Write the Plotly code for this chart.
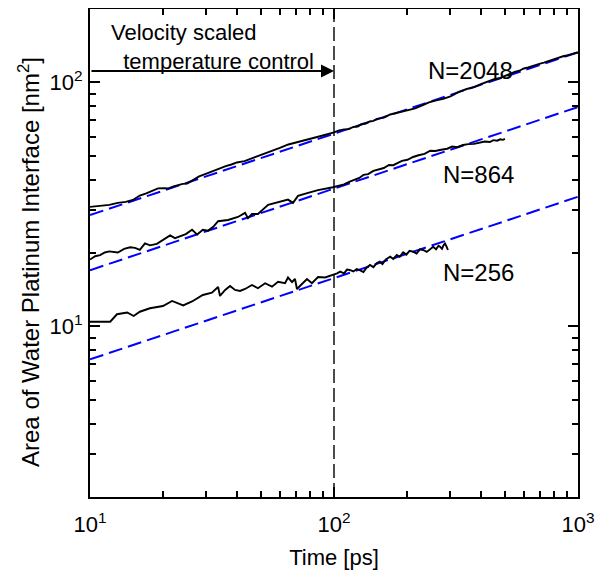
import plotly.graph_objects as go
import math

# ---- data ----
t_2048 = [10, 11, 12, 13, 14, 15, 16, 17, 18, 19, 20, 21, 22, 23, 24, 25, 26, 27, 28,
          30, 32, 34, 36, 38, 40, 43, 46, 50, 55, 60, 65, 70, 75, 80, 90,
          100, 105, 110, 115, 120, 125, 130, 135, 140, 145, 150, 160, 170, 180, 190, 200,
          215, 230, 245, 260, 280, 300, 325, 350, 375, 400, 425, 450, 475, 500, 525, 550,
          575, 600, 625, 650, 675, 700, 725, 750, 775, 800, 825, 850, 875, 900, 925, 950,
          975, 1000]
a_2048 = [30.9, 31.3, 31.5, 32.1, 32.4, 33.0, 34.4, 35.1, 35.9, 36.8, 36.9, 36.8, 37.5, 38.0, 38.4, 38.5, 39.4, 40.2, 41.2,
          42.3, 43.4, 44.4, 45.4, 46.1, 47.0, 47.6, 48.8, 50.2, 51.9, 53.9, 55.7, 56.7, 57.8, 58.9, 60.6,
          62.4, 63.6, 64.2, 64.4, 65.7, 66.0, 67.6, 67.9, 69.2, 69.6, 70.9, 71.8, 73.9, 75.0, 75.6, 77.1,
          78.3, 80.5, 82.9, 84.3, 85.6, 87.6, 91.4, 94.0, 95.7, 98.5, 100.9, 102.8, 104.0, 106.2, 108.9, 110.4,
          111.7, 114.1, 115.2, 116.8, 118.6, 119.5, 120.5, 121.9, 123.6, 124.8, 125.4, 126.6, 128.3, 129.0, 129.6, 130.9,
          132.0, 132.7]

t_864 = [10, 10.5, 11, 11.5, 12, 13, 13.8, 14.6, 15.3, 16, 16.8, 17.6, 18.8, 19.9, 21.3, 22.3, 23.8, 24.7,
         26.2, 27.5, 29, 30.5, 32, 33.5, 36.8, 40.4, 43.2, 44.4, 46.1, 48.8, 53.7, 59, 64.8, 67.9, 71.2,
         78.3, 86, 99, 103, 106, 110, 116, 122, 127, 132, 138, 145, 154, 160, 168, 175, 181, 190, 200,
         211, 222, 235, 248, 260, 275, 291, 305, 320, 338, 355, 375, 397, 415, 435, 450, 466, 480, 492, 502]
a_864 = [18.8, 19.4, 19.6, 20.1, 20.3, 20.1, 20.8, 21.1, 21.0, 20.6, 21.9, 21.5, 21.8, 22.6, 23.6, 23.0, 23.5, 23.9,
         24.9, 23.8, 24.9, 24.7, 25.6, 27.0, 27.3, 28.1, 29.2, 27.8, 28.9, 28.9, 31.5, 32.4, 33.1, 32.1, 34.3,
         35.3, 36.2, 37.2, 37.6, 38.0, 38.2, 39.2, 39.9, 40.6, 41.8, 42.1, 43.4, 44.1, 44.6, 45.9, 45.8, 46.6, 47.7, 48.2,
         49.5, 50.3, 51.0, 52.5, 52.4, 53.0, 53.5, 54.6, 54.3, 55.4, 55.9, 56.0, 56.5, 57.3, 57.0, 58.0, 57.7, 58.5, 58.2, 58.7]

t_256 = [10, 11, 12.1, 12.9, 14.2, 15.1, 16, 17.6, 18.8, 19.9, 21.7, 22.7, 24.1, 26.2, 27.5, 29, 31.6,
         33.5, 34.1, 35.8, 37.5, 39.3, 41.2, 43.2, 46.1, 48.8, 52.2, 55.7, 59, 63, 64.8, 67.3, 69.2, 70.5,
         73.9, 77.5, 81.2, 86, 91.9, 99, 103, 106, 110, 113, 116, 120, 124, 128, 132, 136, 140.5, 145, 150,
         154, 158, 163, 170, 175, 181, 186, 192, 198, 204, 211, 218, 225, 232, 240, 248, 255, 262, 268,
         272, 277, 281, 285, 289, 293]
a_256 = [10.45, 10.47, 10.46, 11.22, 11.41, 11.04, 11.49, 11.87, 12.05, 12.13, 12.72, 12.52, 12.19, 12.66, 13.02, 13.46, 13.76,
         14.52, 13.33, 14.11, 14.65, 14.11, 13.98, 14.24, 14.79, 14.34, 15.03, 14.56, 15.25, 15.03, 15.87, 15.21, 15.65, 14.24,
         14.93, 15.65, 15.03, 15.94, 15.87, 16.25, 16.5, 16.77, 16.5, 17.1, 17.04, 16.8, 17.2, 16.96, 16.7, 17.4, 17.86, 17.5, 18.2,
         18.42, 18.0, 18.8, 19.31, 18.9, 19.62, 19.3, 20.14, 19.7, 20.4, 20.24, 19.9, 20.7, 20.57, 20.2, 20.71, 21.2, 20.7, 21.4,
         21.22, 20.8, 21.5, 21.88, 21.3, 20.57]

fit_t = [10, 1000]
fit_2048 = [28.6, 132.9]
fit_864 = [17.0, 79.3]
fit_256 = [7.33, 34.0]

series_labels = ["N=2048", "N=864", "N=256"]
label_pos = [(0.779, 0.875), (0.797, 0.661), (0.797, 0.46)]

x_range = [10, 1000]
y_range = [2, 200]
switch_time = 100
arrow_y = 111.4
x_major = [10, 100, 1000]
x_major_text = ["10<sup>1</sup>", "10<sup>2</sup>", "10<sup>3</sup>"]
y_major = [10, 100]
y_major_text = ["10<sup>1</sup>", "10<sup>2</sup>"]
x_minor = [20, 30, 40, 50, 60, 70, 80, 90, 200, 300, 400, 500, 600, 700, 800, 900]
y_minor = [2, 3, 4, 5, 6, 7, 8, 9, 20, 30, 40, 50, 60, 70, 80, 90, 200]

FONT = "Liberation Sans, Arial, sans-serif"

fig = go.Figure()

for fv in (fit_2048, fit_864, fit_256):
    fig.add_trace(go.Scatter(x=fit_t, y=fv, mode="lines",
                             line=dict(color="#0000ff", width=2, dash="14px,6px"),
                             showlegend=False, hoverinfo="skip"))

for tv, av in ((t_2048, a_2048), (t_864, a_864), (t_256, a_256)):
    fig.add_trace(go.Scatter(x=tv, y=av, mode="lines",
                             line=dict(color="black", width=1.9),
                             showlegend=False))

# vertical dashed line at switch time
fig.add_trace(go.Scatter(x=[switch_time, switch_time], y=y_range, mode="lines",
                         line=dict(color="black", width=1.4, dash="14px,5px"),
                         showlegend=False, hoverinfo="skip"))

fig.add_annotation(x=math.log10(switch_time), y=math.log10(arrow_y), xref="x", yref="y",
                   ax=math.log10(x_range[0]), ay=math.log10(arrow_y), axref="x", ayref="y",
                   text="", showarrow=True, arrowhead=2, arrowsize=1.3, arrowwidth=2,
                   arrowcolor="black", standoff=0, startstandoff=0)

fig.add_annotation(x=0.039, y=0.922, xref="paper", yref="paper",
                   text="Velocity scaled<br>\u00a0\u00a0temperature control",
                   showarrow=False, xanchor="left", yanchor="middle", align="left",
                   font=dict(size=22, color="black", family=FONT))

for lab, (lx, ly) in zip(series_labels, label_pos):
    fig.add_annotation(x=lx, y=ly, xref="paper", yref="paper", text=lab, showarrow=False,
                       xanchor="center", yanchor="middle",
                       font=dict(size=24, color="black", family=FONT))

# y-axis title (placed as rotated text, slightly below the plot centre as in the reference)
fig.add_annotation(x=-0.125, y=0.4816, xref="paper", yref="paper",
                   text="Area of Water Platinum Interface [nm<sup>2</sup>]",
                   textangle=-90, showarrow=False, xanchor="center", yanchor="middle",
                   font=dict(size=24, color="black", family=FONT))

axis_common = dict(
    type="log", showgrid=False, zeroline=False, automargin=False,
    showline=True, linecolor="black", linewidth=2, mirror="ticks",
    ticks="inside", ticklen=10, tickwidth=2, tickcolor="black",
    tickfont=dict(size=22, color="black", family=FONT),
    tickmode="array",
)

fig.update_xaxes(**axis_common, range=[math.log10(x_range[0]), math.log10(x_range[1])],
                 tickvals=x_major, ticktext=x_major_text, ticklabelstandoff=7,
                 minor=dict(tickmode="array", tickvals=x_minor, ticks="inside", ticklen=6,
                            tickwidth=2, tickcolor="black", showgrid=False),
                 title=dict(text="Time [ps]", font=dict(size=22, color="black", family=FONT), standoff=13))
fig.update_yaxes(**axis_common, range=[math.log10(y_range[0]), math.log10(y_range[1])],
                 tickvals=y_major, ticktext=y_major_text, ticklabelstandoff=1,
                 minor=dict(tickmode="array", tickvals=y_minor, ticks="inside", ticklen=6,
                            tickwidth=2, tickcolor="black", showgrid=False))

# the page body adds an 8 px offset, so margins are shifted to place the plot area as in the reference
fig.update_layout(width=610, height=574, margin=dict(l=82, r=40, t=1, b=85, autoexpand=False),
                  plot_bgcolor="white", paper_bgcolor="white",
                  font=dict(family=FONT, color="black"))

fig.write_html("out.html")
